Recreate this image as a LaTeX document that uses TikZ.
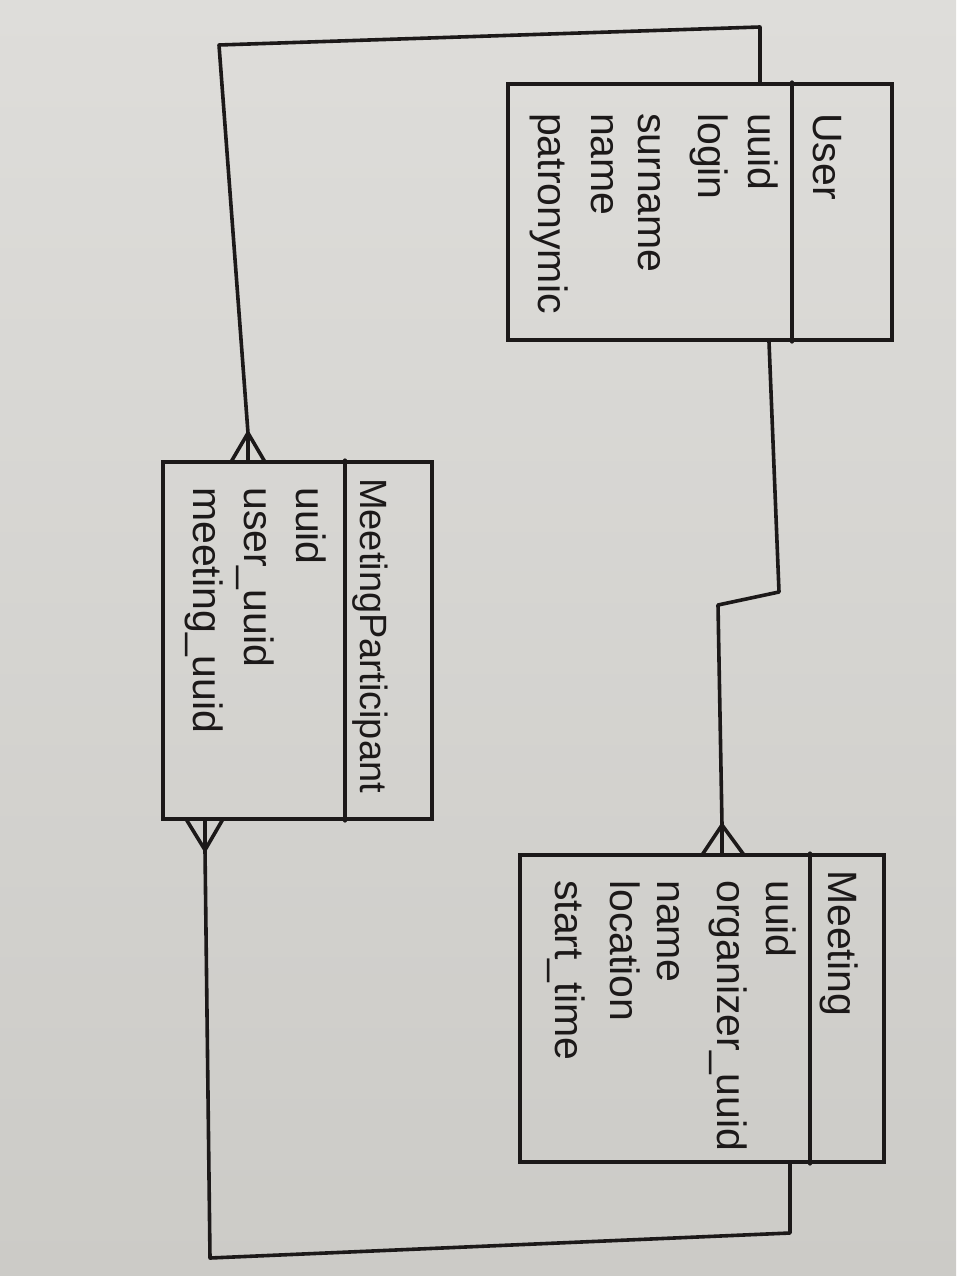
\documentclass[tikz,border=0pt]{standalone}
\usepackage{fontspec}
\setmainfont{Liberation Sans}
\definecolor{ink}{RGB}{28,25,25}
\definecolor{papertop}{RGB}{222,221,218}
\definecolor{paperbot}{RGB}{204,203,199}
\begin{document}
\begin{tikzpicture}[x=1pt,y=-1pt,
  entity/.style={draw=ink, line width=3.6pt, inner sep=0pt, rectangle},
  conn/.style={draw=ink, line width=3.6pt, line join=round, line cap=round},
  crow/.style={draw=ink, line width=3.6pt, line cap=round},
  lbl/.style={rotate=-90, anchor=base west, inner sep=0pt, text=ink,
    font=\fontsize{41}{52}\selectfont}]
\useasboundingbox (0,0) rectangle (956,1276);
\shade[top color=papertop, bottom color=paperbot] (0,0) rectangle (956,1276);

% ---------- entities ----------
\node[entity, minimum width=384pt, minimum height=256pt] (user) at (700,212) {};
\node[entity, minimum width=269pt, minimum height=357pt] (mp) at (297.5,640.5) {};
\node[entity, minimum width=364pt, minimum height=307pt] (meet) at (702,1008.5) {};

% header dividers
\coordinate (udiv) at (792,0);
\coordinate (mdiv) at (345,0);
\coordinate (tdiv) at (810,0);
\draw[conn] (user.north -| udiv) -- (user.south -| udiv);
\draw[conn] (mp.north -| mdiv) -- (mp.south -| mdiv);
\draw[conn] (meet.north -| tdiv) -- (meet.south -| tdiv);

% ---------- texts: User ----------
\node[lbl] (uname) at (813,113) {User};
\node[lbl] (u1) at (748,113) {uuid};
\node[lbl] (u2) at (698,113) {login};
\node[lbl] (u3) at (638,113) {surname};
\node[lbl] (u4) at (591,113) {name};
\node[lbl] (u5) at (538,113) {patronymic};

% ---------- texts: MeetingParticipant ----------
\node[lbl, font=\fontsize{38}{52}\selectfont] (pname) at (360,478) {MeetingParticipant};
\node[lbl] (p1) at (296,487) {uuid};
\node[lbl] (p2) at (244,487) {user\_uuid};
\node[lbl] (p3) at (193,487) {meeting\_uuid};

% ---------- texts: Meeting ----------
\node[lbl] (mname) at (828,870) {Meeting};
\node[lbl] (m1) at (766,880) {uuid};
\node[lbl] (m2) at (717,880) {organizer\_uuid};
\node[lbl] (m3) at (657,880) {name};
\node[lbl] (m4) at (610,880) {location};
\node[lbl] (m5) at (555,880) {start\_time};

% ---------- crow's feet ----------
\coordinate (ca) at (248,433);   % MeetingParticipant top (user side)
\coordinate (cb) at (205,850);   % MeetingParticipant bottom (meeting side)
\coordinate (cc) at (722,825);   % Meeting top (organizer side)
\draw[crow] (ca) -- ++(-17,29) (ca) -- ++(17,29) (ca) -- ++(0,29);
\draw[crow] (cb) -- ++(-19,-31) (cb) -- ++(18,-31) (cb) -- ++(0,-31);
\draw[crow] (cc) -- ++(-20,30) (cc) -- ++(22,30) (cc) -- ++(0,30);

% ---------- connectors ----------
\coordinate (ax) at (760,0);
\coordinate (a1) at (760,27);
\coordinate (a2) at (219,45);
\draw[conn] (user.north -| ax) -- (a1) -- (a2) -- (ca);

\coordinate (bx) at (769,0);
\coordinate (b1) at (779,592);
\coordinate (b2) at (718,605);
\draw[conn] (user.south -| bx) -- (b1) -- (b2) -- (cc);

\coordinate (c1) at (210,1258);
\coordinate (c2) at (790,1233);
\coordinate (cx) at (790,0);
\draw[conn] (cb) -- (c1) -- (c2) -- (meet.south -| cx);
\end{tikzpicture}
\end{document}
